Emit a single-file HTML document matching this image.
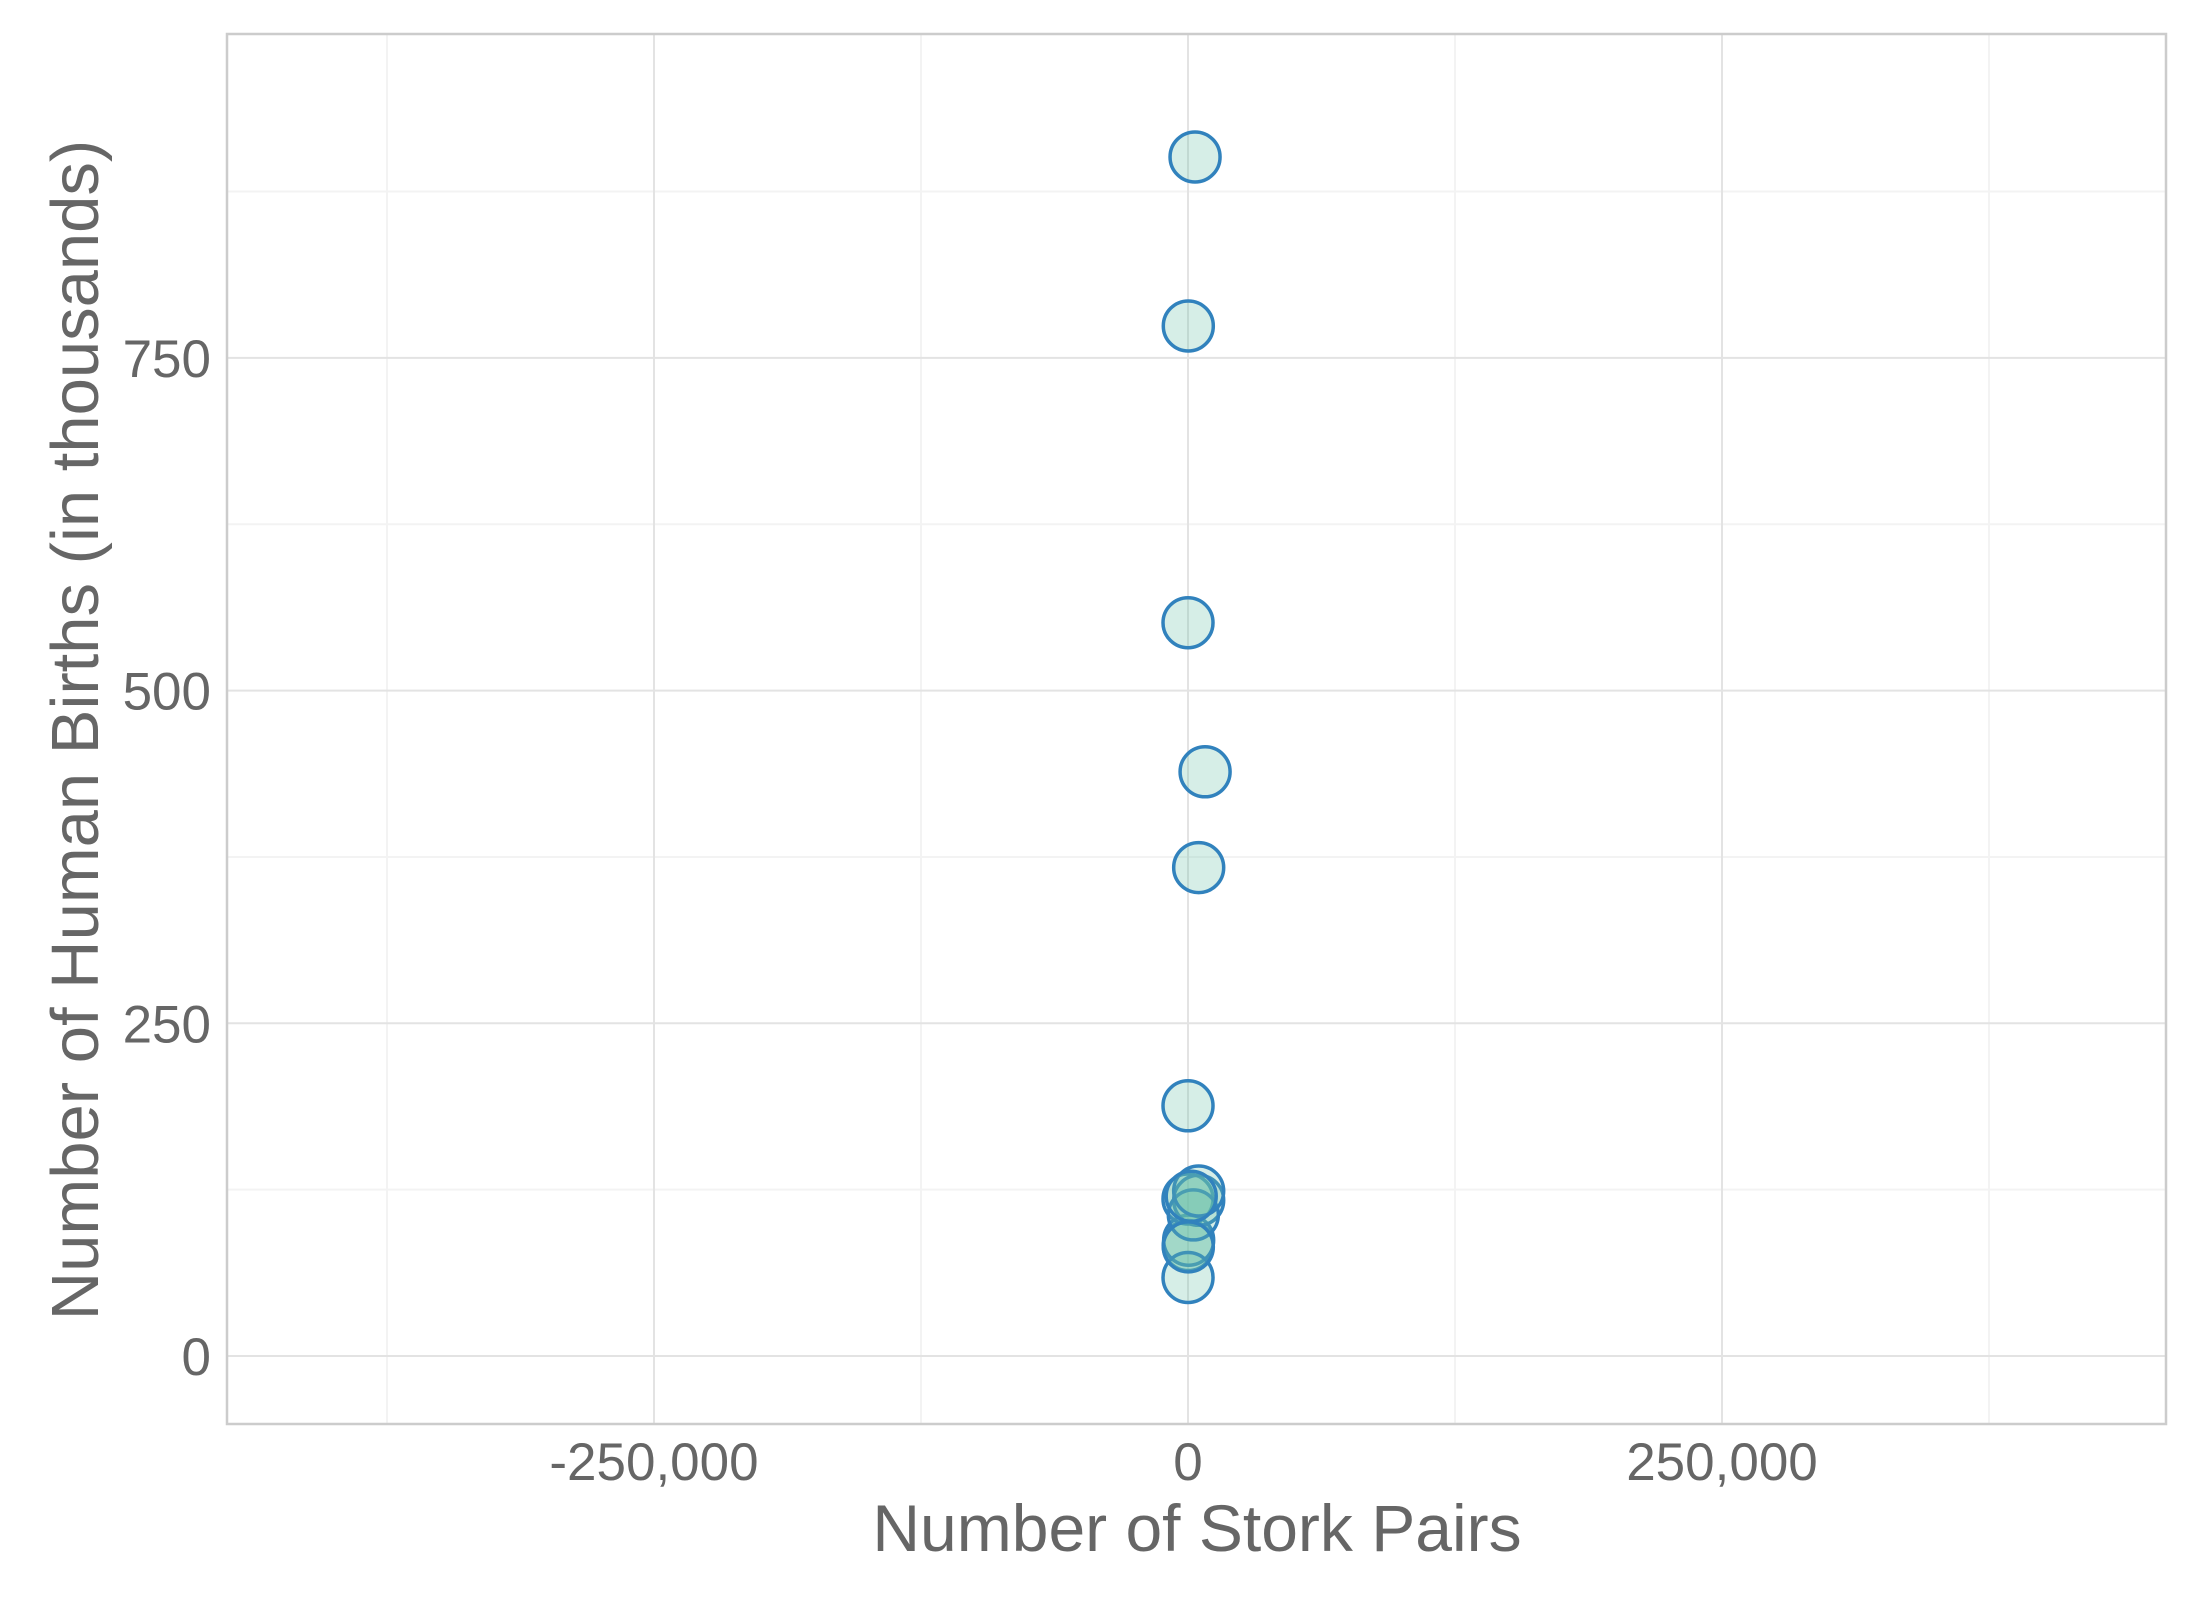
<!DOCTYPE html>
<html><head><meta charset="utf-8"><style>
html,body{margin:0;padding:0;background:#fff}
svg text{font-family:"Liberation Sans",Arial,sans-serif;fill:#666}
</style></head><body>
<svg id="chart" width="2200" height="1600" xmlns="http://www.w3.org/2000/svg">
<g id="grid"></g>
<g id="points"></g>
<rect x="227" y="34" width="1939" height="1390" fill="none" stroke="#cccccc" stroke-width="2.5"/>
<g id="xticks"></g>
<g id="yticks"></g>
<text x="1197" y="1551" font-size="66" text-anchor="middle">Number of Stork Pairs</text>
<text transform="translate(98,730) rotate(-90)" font-size="67" text-anchor="middle">Number of Human Births (in thousands)</text>
</svg>
<script>
const countries = ["Albania","Austria","Belgium","Bulgaria","Denmark","France","Germany","Greece","Holland","Hungary","Italy","Portugal","Romania","Spain","Switzerland"];
const storks = [100,300,1,5000,9,140,3300,2500,4,5000,5,1500,5000,8000,150];
const births = [83,87,118,117,59,774,901,106,188,124,551,120,367,439,82];
const xTicks = [-250000,0,250000];
const xTickLabels = ["-250,000","0","250,000"];
const xMinor = [-375000,-125000,125000,375000];
const yTicks = [0,250,500,750];
const yTickLabels = ["0","250","500","750"];
const yMinor = [125,375,625,875];

const NS="http://www.w3.org/2000/svg";
const L=227,R=2166,T=34,B=1424;
function sx(v){return 1188+v*534/250000;}
function sy(v){return 1356-v*332.7/250;}
function mk(tag,attrs,parent){const e=document.createElementNS(NS,tag);for(const k in attrs)e.setAttribute(k,attrs[k]);parent.appendChild(e);return e;}
const grid=document.getElementById('grid');
xMinor.forEach(v=>{const e=mk('line',{x1:sx(v),x2:sx(v),y1:T,y2:B,stroke:'#f3f3f3','stroke-width':2},grid);

});
yMinor.forEach(v=>{const e=mk('line',{x1:L,x2:R,y1:sy(v),y2:sy(v),stroke:'#f3f3f3','stroke-width':2},grid);

});
xTicks.forEach(v=>{const e=mk('line',{x1:sx(v),x2:sx(v),y1:T,y2:B,stroke:'#e3e3e3','stroke-width':2},grid);

});
yTicks.forEach(v=>{const e=mk('line',{x1:L,x2:R,y1:sy(v),y2:sy(v),stroke:'#e3e3e3','stroke-width':2},grid);

});
const xt=document.getElementById('xticks');
xTicks.forEach((v,i)=>{const e=mk('text',{x:sx(v),y:1480,'font-size':53,'text-anchor':'middle'},xt);e.textContent=xTickLabels[i];

});
const yt=document.getElementById('yticks');
yTicks.forEach((v,i)=>{const e=mk('text',{x:211,y:sy(v)+19,'font-size':53,'text-anchor':'end'},yt);e.textContent=yTickLabels[i];

});
const pts=document.getElementById('points');
storks.forEach((s,i)=>{const c=mk('circle',{cx:sx(s),cy:sy(births[i]),r:25,fill:'rgba(102,194,165,0.27)',stroke:'#3182bd','stroke-width':3.5},pts);

});
</script>
</body></html>
